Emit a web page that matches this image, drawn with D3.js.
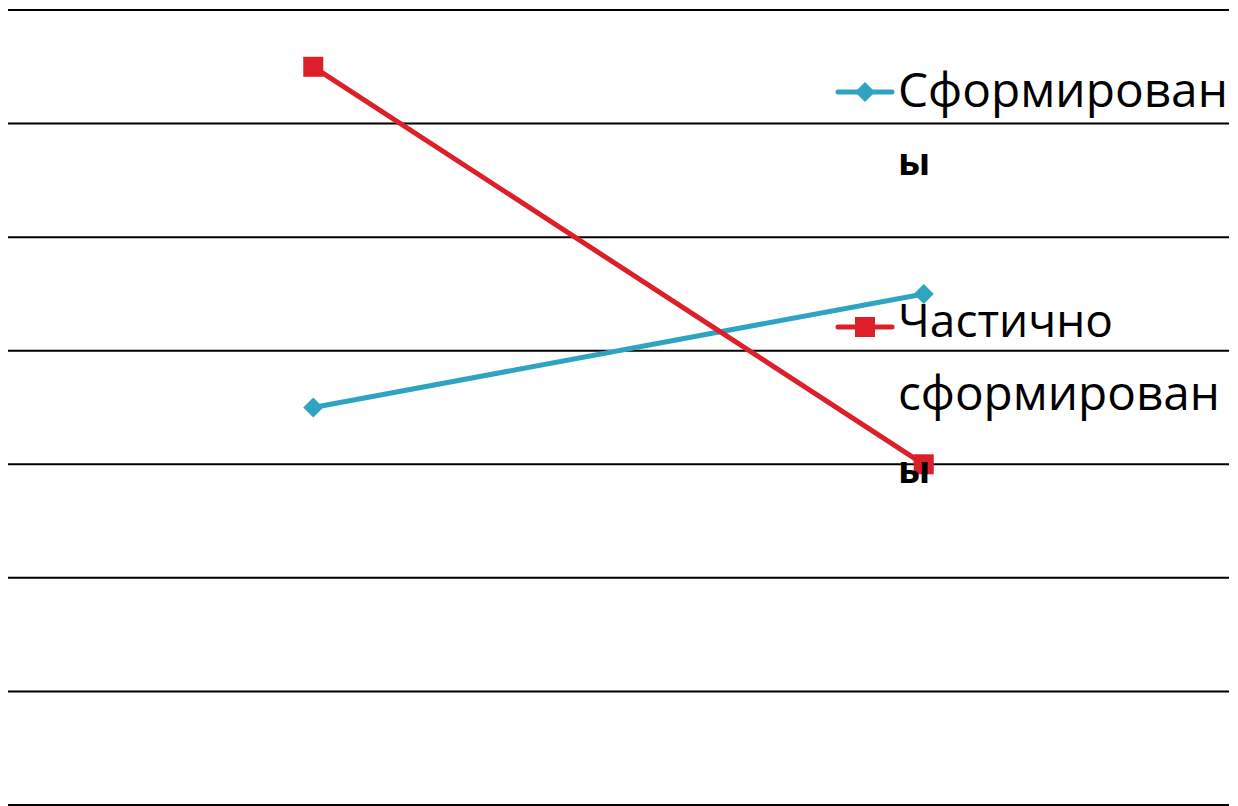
<!DOCTYPE html>
<html><head><meta charset="utf-8">
<script src="https://cdn.jsdelivr.net/npm/d3@7"></script>
<style>html,body{margin:0;padding:0;background:#fff;}svg{display:block;}</style>
</head><body>
<script>
const categories = ["Этап 1", "Этап 2"];
const seriesNames = [["Сформирован", "ы"], ["Частично", "сформирован", "ы"]];
const formed = [35, 45];
const partial = [65, 30];
const yTicks = [0, 10, 20, 30, 40, 50, 60, 70];

const W = 1238, H = 806;
const svg = d3.select("body").append("svg").attr("width", W).attr("height", H);
const x = d3.scaleBand().domain(categories).range([8, 1229]);
const y = d3.scaleLinear().domain([0, 70]).range([805, 10]);

svg.append("g").selectAll("line").data(yTicks).join("line")
  .attr("x1", 8).attr("x2", 1229)
  .attr("y1", d => y(d)).attr("y2", d => y(d))
  .attr("stroke", "#000").attr("stroke-width", 2);

const series = [
  {name: seriesNames[0], values: formed, color: "#2fa4c2", marker: "diamond"},
  {name: seriesNames[1], values: partial, color: "#dd1f2a", marker: "square"}
];
const cx = d => x(categories[d]) + x.bandwidth() / 2;
const line = d3.line().x((d, i) => cx(i)).y(d => y(d));

function drawMarker(g, mx, my, type, color) {
  if (type === "diamond") {
    g.append("path").attr("d", `M${mx},${my-10}L${mx+10},${my}L${mx},${my+10}L${mx-10},${my}Z`).attr("fill", color);
  } else {
    g.append("rect").attr("x", mx - 10).attr("y", my - 10).attr("width", 20).attr("height", 20).attr("fill", color);
  }
}

series.forEach(s => {
  svg.append("path").datum(s.values).attr("d", line)
    .attr("fill", "none").attr("stroke", s.color).attr("stroke-width", 5);
  const g = svg.append("g");
  s.values.forEach((v, i) => drawMarker(g, cx(i), y(v), s.marker, s.color));
});

// legend
const legendY = [92, 327];
const baseOff = [15, 10];
const widths = [[330, 29], [215, 322, 29]];
series.forEach((s, k) => {
  const g = svg.append("g");
  g.append("line").attr("x1", 838).attr("x2", 892).attr("y1", legendY[k]).attr("y2", legendY[k])
    .attr("stroke", s.color).attr("stroke-width", 5).attr("stroke-linecap", "round");
  drawMarker(g, 865, legendY[k], s.marker, s.color);
  s.name.forEach((t, j) => {
    const single = t.length === 1;
    const tx = g.append("text").attr("x", 898).attr("y", legendY[k] + baseOff[k] + j * (k === 0 ? 68 : 73))
      .attr("font-family", "Open Sans, Noto Sans, sans-serif").attr("font-size", single ? 38 : 52).attr("fill", "#000")
      .attr("font-weight", single ? 700 : 400)
      .text(t);
    if (single) return;
    const nat = tx.node().getComputedTextLength();
    const target = widths[k][j];
    if (nat > target) {
      tx.attr("font-size", 52 * target / nat);
    } else {
      tx.attr("letter-spacing", (target - nat) / (t.length - 1) + "px");
    }
  });
});
</script>
</body></html>
